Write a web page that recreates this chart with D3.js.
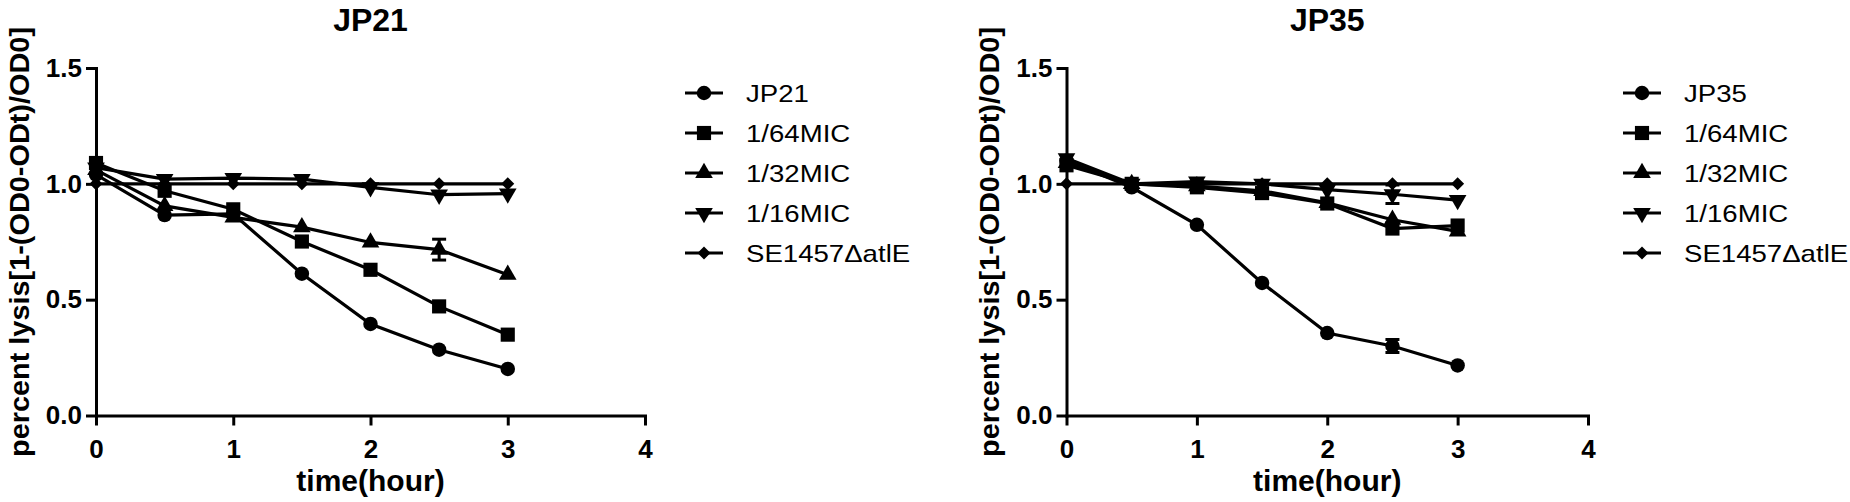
<!DOCTYPE html>
<html>
<head>
<meta charset="UTF-8" />
<title>Lysis curves</title>
<script src="https://d3js.org/d3.v7.min.js"></script>
<style type="text/css">
body {
    margin: 0;
    background-color: #fff;
    font-family: "Liberation Sans", Arial, sans-serif;
}
.axis path, .axis line {
    stroke: #000;
    stroke-width: 3px;
}
.axis text {
    font-size: 26px;
    font-weight: bold;
    fill: #000;
}
.series path.line {
    fill: none;
    stroke: #000;
    stroke-width: 3.2px;
}
.legend text {
    font-size: 24px;
    fill: #000;
}
</style>
</head>
<body>
<svg id="chart" width="1850" height="502"></svg>

<script type="text/javascript">
// time points (hours)
var times = [0, 0.5, 1, 1.5, 2, 2.5, 3];

// legend names
var jp21Names = ["JP21", "1/64MIC", "1/32MIC", "1/16MIC", "SE1457\u0394atlE"];
var jp35Names = ["JP35", "1/64MIC", "1/32MIC", "1/16MIC", "SE1457\u0394atlE"];

// JP21 panel
var jp21Strain = [1.04, 0.865, 0.87, 0.612, 0.395, 0.284, 0.201];
var jp21Mic64  = [1.09, 0.97, 0.89, 0.751, 0.629, 0.471, 0.349];
var jp21Mic32  = [1.06, 0.905, 0.855, 0.813, 0.747, 0.716, 0.608];
var jp21Mic16  = [1.07, 1.02, 1.025, 1.02, 0.985, 0.953, 0.958];
var jp21Atle   = [1.0, 1.0, 1.0, 1.0, 1.0, 1.0, 1.0];
var jp21Mic32Err = [0, 0, 0, 0, 0, 0.045, 0];

// JP35 panel
var jp35Strain = [1.10, 0.985, 0.823, 0.572, 0.356, 0.30, 0.216];
var jp35Mic64  = [1.08, 1.0, 0.985, 0.96, 0.915, 0.807, 0.82];
var jp35Mic32  = [1.09, 1.0, 0.99, 0.97, 0.918, 0.845, 0.795];
var jp35Mic16  = [1.11, 1.0, 1.01, 1.0, 0.975, 0.955, 0.93];
var jp35Atle   = [1.0, 1.0, 1.0, 1.0, 1.0, 1.0, 1.0];
var jp35StrainErr = [0, 0, 0, 0, 0, 0.028, 0];
var jp35Mic16Err  = [0, 0, 0, 0, 0, 0.04, 0];

var xTicks = [0, 1, 2, 3, 4];
var yTicks = [0.0, 0.5, 1.0, 1.5];

var svg = d3.select("#chart");

// marker shapes: circle, square, triangle, inverted triangle, diamond
var shapes = [
    { type: d3.symbolCircle, size: 165, rot: 0 },
    { type: d3.symbolSquare, size: 200, rot: 0 },
    { type: d3.symbolTriangle, size: 135, rot: 0 },
    { type: d3.symbolTriangle, size: 135, rot: 180 },
    { type: d3.symbolSquare, size: 85, rot: 45 }
];

function drawPanel(p) {
    var x = d3.scaleLinear().domain([0, 4]).range([p.left, p.right]);
    var y = d3.scaleLinear().domain([0, 1.5]).range([415.5, 68]);

    var g = svg.append("g");

    var xa = g.append("g").attr("class", "axis")
        .attr("transform", "translate(0,415.5)")
        .call(d3.axisBottom(x).tickValues(xTicks).tickFormat(d3.format("d"))
            .tickSizeInner(10).tickSizeOuter(0).tickPadding(8));
    xa.selectAll("text").attr("dy", null).attr("y", 42);

    g.append("g").attr("class", "axis")
        .attr("transform", "translate(" + p.left + ",0)")
        .call(d3.axisLeft(y).tickValues(yTicks).tickFormat(d3.format(".1f"))
            .tickSizeInner(10).tickSizeOuter(0).tickPadding(4));

    g.selectAll(".axis .domain").attr("stroke-linecap", "square");

    g.append("text")
        .attr("x", (p.left + p.right) / 2).attr("y", 31)
        .attr("text-anchor", "middle")
        .style("font-size", "32px").style("font-weight", "bold")
        .text(p.title);

    g.append("text")
        .attr("x", (p.left + p.right) / 2).attr("y", 491)
        .attr("text-anchor", "middle")
        .style("font-size", "30px").style("font-weight", "bold")
        .text("time(hour)");

    g.append("text")
        .attr("transform", "translate(" + p.ylabX + ",242) rotate(-90)")
        .attr("text-anchor", "middle")
        .attr("dy", "0.35em")
        .attr("textLength", 430).attr("lengthAdjust", "spacingAndGlyphs")
        .style("font-size", "27px").style("font-weight", "bold")
        .text("percent lysis[1-(OD0-ODt)/OD0]");

    var line = d3.line()
        .x(function(d) { return x(d.t); })
        .y(function(d) { return y(d.v); });

    // draw from last series to first so the strain sits on top
    for (var s = p.series.length - 1; s >= 0; s--) {
        var vals = p.series[s];
        var errs = p.errors[s];
        var pts = times.map(function(t, i) {
            return { t: t, v: vals[i], e: errs ? errs[i] : 0 };
        });
        var sg = g.append("g").attr("class", "series");

        sg.append("path").attr("class", "line").attr("d", line(pts));

        var eb = sg.selectAll("g.err").data(pts.filter(function(d) { return d.e > 0; }))
            .enter().append("g").attr("class", "err");
        eb.append("line")
            .attr("x1", function(d) { return x(d.t); })
            .attr("x2", function(d) { return x(d.t); })
            .attr("y1", function(d) { return y(d.v - d.e); })
            .attr("y2", function(d) { return y(d.v + d.e); })
            .attr("stroke", "#000").attr("stroke-width", 3);
        eb.append("line")
            .attr("x1", function(d) { return x(d.t) - 7; })
            .attr("x2", function(d) { return x(d.t) + 7; })
            .attr("y1", function(d) { return y(d.v + d.e); })
            .attr("y2", function(d) { return y(d.v + d.e); })
            .attr("stroke", "#000").attr("stroke-width", 3);
        eb.append("line")
            .attr("x1", function(d) { return x(d.t) - 7; })
            .attr("x2", function(d) { return x(d.t) + 7; })
            .attr("y1", function(d) { return y(d.v - d.e); })
            .attr("y2", function(d) { return y(d.v - d.e); })
            .attr("stroke", "#000").attr("stroke-width", 3);

        var sh = shapes[s];
        sg.selectAll("path.mark").data(pts).enter().append("path")
            .attr("class", "mark")
            .attr("d", d3.symbol().type(sh.type).size(sh.size))
            .attr("transform", function(d) {
                return "translate(" + x(d.t) + "," + y(d.v) + ") rotate(" + sh.rot + ")";
            })
            .attr("fill", "#000");
    }

    // legend
    var lg = g.append("g").attr("class", "legend");
    var rows = lg.selectAll("g").data(p.names).enter().append("g")
        .attr("transform", function(d, i) {
            return "translate(" + p.legX + "," + (93 + i * 40) + ")";
        });
    rows.append("line")
        .attr("x1", -19).attr("x2", 19).attr("y1", 0).attr("y2", 0)
        .attr("stroke", "#000").attr("stroke-width", 3.2);
    rows.append("path")
        .attr("d", function(d, i) { return d3.symbol().type(shapes[i].type).size(shapes[i].size)(); })
        .attr("transform", function(d, i) { return "rotate(" + shapes[i].rot + ")"; })
        .attr("fill", "#000");
    rows.append("text")
        .attr("x", 42 / 1.15).attr("dy", "0.36em")
        .attr("transform", "scale(1.15,1)")
        .text(function(d) { return d; });
}

drawPanel({
    title: "JP21", left: 96, right: 645, ylabX: 20, legX: 704,
    names: jp21Names,
    series: [jp21Strain, jp21Mic64, jp21Mic32, jp21Mic16, jp21Atle],
    errors: [null, null, jp21Mic32Err, null, null]
});

drawPanel({
    title: "JP35", left: 1066.5, right: 1588, ylabX: 990, legX: 1642,
    names: jp35Names,
    series: [jp35Strain, jp35Mic64, jp35Mic32, jp35Mic16, jp35Atle],
    errors: [jp35StrainErr, null, null, jp35Mic16Err, null]
});
</script>
</body>
</html>
